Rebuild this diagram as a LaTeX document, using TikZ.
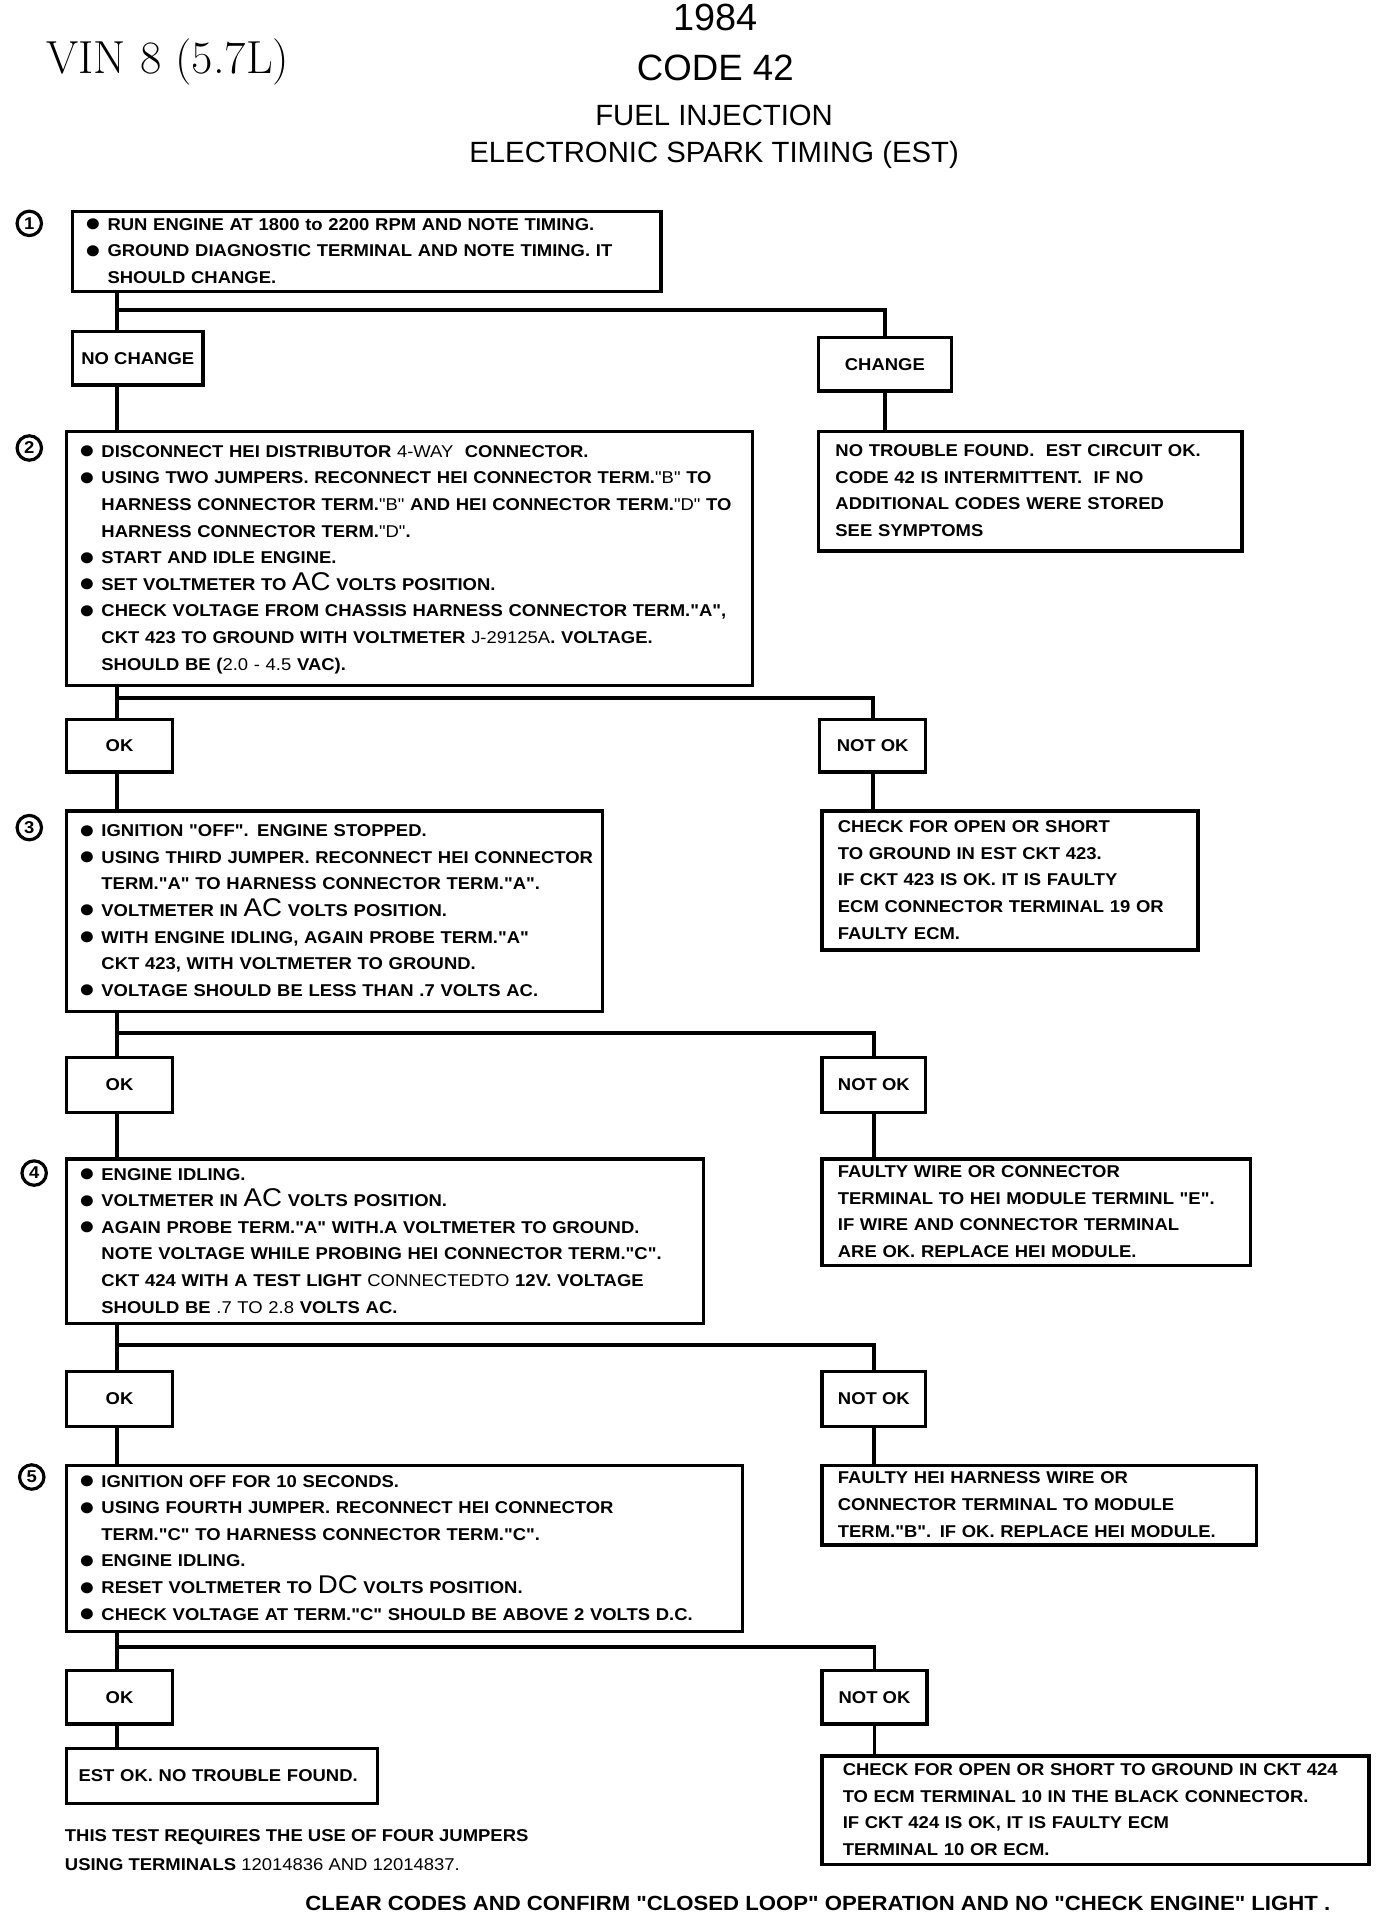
\documentclass[tikz,border=0pt]{standalone}
\usepackage{fontspec}
\usepackage{tikz}
\usetikzlibrary{calc}
\newfontfamily\plotfont[FakeStretch=1.08]{Liberation Sans}
\newfontfamily\headfont{Liberation Sans}
\newcommand{\bul}{\raisebox{-1.2pt}{\fontsize{21}{0}\selectfont ●}\hspace{5pt}}
\newcommand{\ind}{\hphantom{\fontsize{21}{0}\selectfont ●}\hspace{5pt}}
\newcommand{\volts}[1]{{\mdseries\fontsize{21}{21}\selectfont #1}}
\newcommand{\thin}[1]{{\mdseries #1}}
\newcommand{\lines}[1]{\begin{tabular}{@{}l@{}}#1\end{tabular}}
\tikzset{
    bodyfont/.style={font=\plotfont\bfseries\fontsize{14}{21.8}\selectfont},
    stepbox/.style={draw, line width=2.8pt, anchor=north west, align=left, inner xsep=10pt, inner ysep=0pt, bodyfont},
    result/.style={stepbox, inner xsep=14pt},
    answer/.style={draw, line width=2.8pt, anchor=north west, inner sep=0pt, bodyfont},
    stepno/.style={circle, draw, line width=2.6pt, minimum size=20pt, inner sep=0pt, font=\plotfont\bfseries\fontsize{14}{14}\selectfont},
    title/.style={font=\headfont\fontsize{#1}{#1}\selectfont},
    wire/.style={line width=3.2pt}
}

\begin{document}
\begin{tikzpicture}[x=1pt, y=-1pt]
    \useasboundingbox[fill=white] (0,0) rectangle (1140,1568);
    % heading
    \node[title=31] (year) at (586,14) {1984};
    \node[title=30] (code) at (586,56) {CODE 42};
    \node[title=24] (fuel) at (585,94.5) {FUEL INJECTION};
    \node[title=24] (est) at (585,127) {ELECTRONIC SPARK TIMING (EST)};
    \node[anchor=west, inner sep=0pt, font=\fontsize{38}{38}\selectfont] (vin) at (38,51) {VIN 8 (5.7L)};
    % test steps
    \node[stepno] (n1) at (24,183) {1};
    \node[stepbox, text width=462pt, minimum height=64pt] (s1) at (58,172) {\lines{%
        \bul RUN ENGINE AT 1800 to 2200 RPM AND NOTE TIMING.\\
        \bul GROUND DIAGNOSTIC TERMINAL AND NOTE TIMING. IT\\
        \ind SHOULD CHANGE.}};
    \node[stepno] (n2) at (24,367) {2};
    \node[stepbox, text width=542pt, minimum height=208pt] (s2) at (53,352) {\lines{%
        \bul DISCONNECT HEI DISTRIBUTOR \thin{4-WAY}\ \ CONNECTOR.\\
        \bul USING TWO JUMPERS. RECONNECT HEI CONNECTOR TERM.\thin{"B"} TO\\
        \ind HARNESS CONNECTOR TERM.\thin{"B"} AND HEI CONNECTOR TERM.\thin{"D"} TO\\
        \ind HARNESS CONNECTOR TERM.\thin{"D"}.\\
        \bul START AND IDLE ENGINE.\\
        \bul SET VOLTMETER TO \volts{AC} VOLTS POSITION.\\
        \bul CHECK VOLTAGE FROM CHASSIS HARNESS CONNECTOR TERM."A",\\
        \ind CKT 423 TO GROUND WITH VOLTMETER \thin{J-29125A}. VOLTAGE.\\
        \ind SHOULD BE (\thin{2.0 - 4.5} VAC).}};
    \node[stepno] (n3) at (24,678) {3};
    \node[stepbox, text width=419pt, minimum height=164pt] (s3) at (53,663) {\lines{%
        \bul IGNITION "OFF". ENGINE STOPPED.\\
        \bul USING THIRD JUMPER. RECONNECT HEI CONNECTOR\\
        \ind TERM."A" TO HARNESS CONNECTOR TERM."A".\\
        \bul VOLTMETER IN \volts{AC} VOLTS POSITION.\\
        \bul WITH ENGINE IDLING, AGAIN PROBE TERM."A"\\
        \ind CKT 423, WITH VOLTMETER TO GROUND.\\
        \bul VOLTAGE SHOULD BE LESS THAN .7 VOLTS AC.}};
    \node[stepno] (n4) at (28,961) {4};
    \node[stepbox, text width=502pt, minimum height=135pt] (s4) at (53,948) {\lines{%
        \bul ENGINE IDLING.\\
        \bul VOLTMETER IN \volts{AC} VOLTS POSITION.\\
        \bul AGAIN PROBE TERM."A" WITH.A VOLTMETER TO GROUND.\\
        \ind NOTE VOLTAGE WHILE PROBING HEI CONNECTOR TERM."C".\\
        \ind CKT 424 WITH A TEST LIGHT \thin{CONNECTEDTO} 12V. VOLTAGE\\
        \ind SHOULD BE \thin{.7 TO 2.8} VOLTS AC.}};
    \node[stepno] (n5) at (26,1210) {5};
    \node[stepbox, text width=534pt, minimum height=136pt] (s5) at (53,1199) {\lines{%
        \bul IGNITION OFF FOR 10 SECONDS.\\
        \bul USING FOURTH JUMPER. RECONNECT HEI CONNECTOR\\
        \ind TERM."C" TO HARNESS CONNECTOR TERM."C".\\
        \bul ENGINE IDLING.\\
        \bul RESET VOLTMETER TO \volts{DC} VOLTS POSITION.\\
        \bul CHECK VOLTAGE AT TERM."C" SHOULD BE ABOVE 2 VOLTS D.C.}};
    % answers
    \node[answer, minimum width=107pt, minimum height=44pt] (nc) at (58,270) {NO CHANGE};
    \node[answer, minimum width=109pt, minimum height=44pt] (chg) at (669,275) {CHANGE};
    \node[answer, minimum width=87pt, minimum height=43pt] (ok2) at (53,588) {OK};
    \node[answer, minimum width=87pt, minimum height=43pt] (nok2) at (670,588) {NOT OK};
    \node[answer, minimum width=87pt, minimum height=45pt] (ok3) at (53,865) {OK};
    \node[answer, minimum width=85pt, minimum height=45pt] (nok3) at (672,865) {NOT OK};
    \node[answer, minimum width=87pt, minimum height=45pt] (ok4) at (53,1122) {OK};
    \node[answer, minimum width=85pt, minimum height=45pt] (nok4) at (672,1122) {NOT OK};
    \node[answer, minimum width=87pt, minimum height=44pt] (ok5) at (53,1367) {OK};
    \node[answer, minimum width=86pt, minimum height=44pt] (nok5) at (672,1367) {NOT OK};
    % results
    \node[result, text width=319pt, minimum height=98pt] (r1) at (669,352) {\lines{%
        NO TROUBLE FOUND.\ \ EST CIRCUIT OK.\\
        CODE 42 IS INTERMITTENT.\ \ IF NO\\
        ADDITIONAL CODES WERE STORED\\
        SEE SYMPTOMS}};
    \node[result, inner xsep=13pt, text width=282pt, minimum height=114pt] (r2) at (672,663) {\lines{%
        CHECK FOR OPEN OR SHORT\\
        TO GROUND IN EST CKT 423.\\
        IF CKT 423 IS OK. IT IS FAULTY\\
        ECM CONNECTOR TERMINAL 19 OR\\
        FAULTY ECM.}};
    \node[result, inner xsep=13pt, text width=325pt, minimum height=85pt] (r3) at (672,948) {\lines{%
        FAULTY WIRE OR CONNECTOR\\
        TERMINAL TO HEI MODULE TERMINL "E".\\
        IF WIRE AND CONNECTOR TERMINAL\\
        ARE OK. REPLACE HEI MODULE.}};
    \node[result, inner xsep=13pt, text width=330pt, minimum height=64pt] (r4) at (672,1199) {\lines{%
        FAULTY HEI HARNESS WIRE OR\\
        CONNECTOR TERMINAL TO MODULE\\
        TERM."B". IF OK. REPLACE HEI MODULE.}};
    \node[stepbox, text width=235pt, minimum height=45pt] (rok) at (53,1431) {EST OK. NO TROUBLE FOUND.};
    \node[result, inner xsep=17pt, text width=414pt, minimum height=89pt] (r5) at (672,1437) {\lines{%
        CHECK FOR OPEN OR SHORT TO GROUND IN CKT 424\\
        TO ECM TERMINAL 10 IN THE BLACK CONNECTOR.\\
        IF CKT 424 IS OK, IT IS FAULTY ECM\\
        TERMINAL 10 OR ECM.}};
    % notes
    \node[anchor=north west, align=left, inner sep=0pt, font=\plotfont\bfseries\fontsize{14}{23}\selectfont] (note) at (53,1499) {%
        THIS TEST REQUIRES THE USE OF FOUR JUMPERS\\
        USING TERMINALS \thin{12014836 AND 12014837.}};
    \node[font=\plotfont\bfseries\fontsize{16.8}{17}\selectfont] (foot) at (670,1559) {CLEAR CODES AND CONFIRM "CLOSED LOOP" OPERATION AND NO "CHECK ENGINE" LIGHT .};
    % connectors
    \coordinate (j1) at (96,254);
    \coordinate (j2) at (96,572);
    \coordinate (j3) at (96,846);
    \coordinate (j4) at (96,1102);
    \coordinate (j5) at (96,1349);
    \draw[wire] (s1.south -| j1) -- (nc.north -| j1);
    \draw[wire] (j1) -| (chg.north);
    \draw[wire] (nc.south -| j1) -- (s2.north -| j1);
    \draw[wire] (chg.south) -- (chg.south |- r1.north);
    \draw[wire] (s2.south -| j2) -- (ok2.north -| j2);
    \draw[wire] (j2) -| (nok2.north);
    \draw[wire] (ok2.south -| j2) -- (s3.north -| j2);
    \draw[wire] (nok2.south) -- (nok2.south |- r2.north);
    \draw[wire] (s3.south -| j3) -- (ok3.north -| j3);
    \draw[wire] (j3) -| (nok3.north);
    \draw[wire] (ok3.south -| j3) -- (s4.north -| j3);
    \draw[wire] (nok3.south) -- (nok3.south |- r3.north);
    \draw[wire] (s4.south -| j4) -- (ok4.north -| j4);
    \draw[wire] (j4) -| (nok4.north);
    \draw[wire] (ok4.south -| j4) -- (s5.north -| j4);
    \draw[wire] (nok4.south) -- (nok4.south |- r4.north);
    \draw[wire] (s5.south -| j5) -- (ok5.north -| j5);
    \draw[wire] (j5) -| (nok5.north);
    \draw[wire] (ok5.south -| j5) -- (rok.north -| j5);
    \draw[wire] (nok5.south) -- (nok5.south |- r5.north);
\end{tikzpicture}
\end{document}
